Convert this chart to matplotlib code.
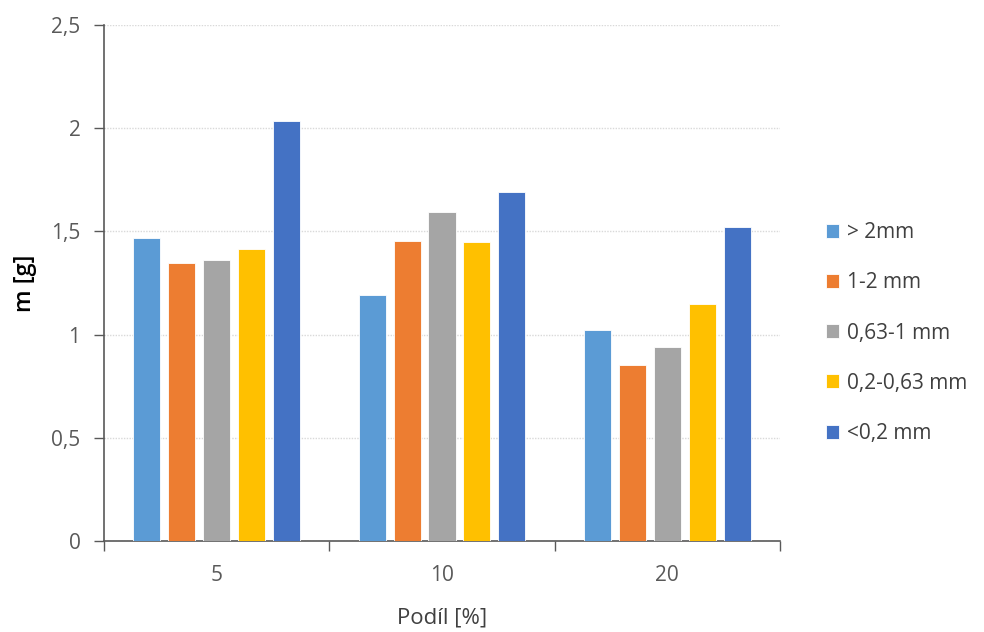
import numpy as np
import matplotlib.pyplot as plt
from matplotlib.ticker import FuncFormatter

# hodnoty odečtené pro jednotlivé frakce
podil = ["5", "10", "20"]
frakce = ["> 2mm", "1-2 mm", "0,63-1 mm", "0,2-0,63 mm", "<0,2 mm"]
m_nad2 = [1.47, 1.19, 1.02]
m_1_2 = [1.345, 1.455, 0.855]
m_063_1 = [1.36, 1.595, 0.94]
m_02_063 = [1.415, 1.45, 1.15]
m_pod02 = [2.035, 1.69, 1.52]
barvy = ["#5B9BD5", "#ED7D31", "#A5A5A5", "#FFC000", "#4472C4"]

plt.rcParams['font.family'] = ['Open Sans', 'DejaVu Sans']

fig = plt.figure(figsize=(9.84, 6.32), dpi=100)
ax = fig.add_axes([104 / 984, 1 - 541 / 632, (780 - 104) / 984, (541 - 25) / 632])

x = np.arange(len(podil))
sirka = 0.12
krok = 0.155
serie = [m_nad2, m_1_2, m_063_1, m_02_063, m_pod02]
for i, (hodnoty, popis) in enumerate(zip(serie, frakce)):
    ax.bar(x + (i - 2) * krok, hodnoty, width=sirka, color=barvy[i],
           edgecolor="white", linewidth=0.6, label=popis, zorder=3)

ax.set_xlim(-0.5, 2.5)
ax.set_ylim(0, 2.5)
ax.set_yticks(np.arange(0, 2.51, 0.5))
ax.yaxis.set_major_formatter(FuncFormatter(lambda v, p: f"{v:g}".replace(".", ",")))
ax.grid(axis="y", color="#D9D9D9", linestyle=(0, (1, 1)), linewidth=1, zorder=0)

# oddělovače kategorií na ose x
ax.set_xticks([-0.5, 0.5, 1.5, 2.5])
ax.set_xticklabels([])
ax.set_xticks(x, minor=True)
ax.set_xticklabels(podil, minor=True)
ax.tick_params(axis="x", which="major", length=7, width=1, color="#595959", direction="out")
ax.tick_params(axis="x", which="minor", length=0, pad=17, labelsize=15, labelcolor="#595959")
ax.tick_params(axis="y", length=7, width=1, color="#595959", pad=10, labelsize=15, labelcolor="#595959")

for s in ["top", "right"]:
    ax.spines[s].set_visible(False)
for s in ["left", "bottom"]:
    ax.spines[s].set_color("#595959")
    ax.spines[s].set_linewidth(1.2)

ax.set_ylabel("m [g]", fontsize=17, fontweight="semibold", labelpad=10)
ax.set_xlabel("Podíl [%]", fontsize=16, labelpad=16, color="#404040")

ax.legend(loc="center left", bbox_to_anchor=(1.04, 0.403), frameon=False,
          fontsize=15, labelspacing=1.4, handlelength=0.65, handleheight=0.65,
          handletextpad=0.35, labelcolor="#404040")

fig.savefig("out.png", dpi=100)
